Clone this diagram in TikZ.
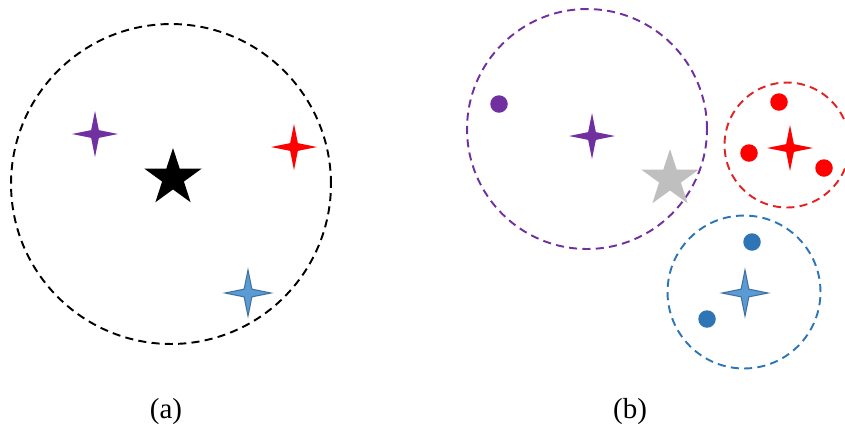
\documentclass[tikz,border=0pt]{standalone}
\usepackage{fontspec}
\setmainfont{Liberation Serif}
\usetikzlibrary{shapes.geometric}
\definecolor{cpurple}{HTML}{7030A0}
\definecolor{cred}{HTML}{FF0000}
\definecolor{cdred}{HTML}{E02424}
\definecolor{cblue}{HTML}{5B9BD5}
\definecolor{cblueline}{HTML}{41719C}
\definecolor{cdblue}{HTML}{2E75B6}
\definecolor{cgray}{HTML}{BFBFBF}

\begin{document}
\begin{tikzpicture}
    [x=0.02cm, y=-0.02cm,
    ring/.style={draw, circle, dashed, line width=1.1pt, dash pattern=on 4.6pt off 3pt, inner sep=0pt},
    sparkle/.style={star, star points=4, star point ratio=4.2, minimum size=0.92cm, inner sep=0pt, draw=none},
    bigstar/.style={star, star points=5, star point ratio=2.618, minimum size=1.2cm, inner sep=0pt, draw=none},
    dot/.style={circle, inner sep=0pt, minimum size=0.35cm},
    caption/.style={font=\fontsize{16.5}{19}\selectfont}]
        \clip (0,0) rectangle (845,434);
        %% Panel (a)
        \node[ring, minimum size=6.4cm] (A) at (171,184) {};
        \node[sparkle, fill=cpurple] (Ap) at (95,134) {};
        \node[sparkle, fill=cred] (Ar) at (294,147) {};
        \node[sparkle, fill=cblue, draw=cblueline, line width=0.6pt] (Ab) at (248,293) {};
        \node[bigstar, fill=black] (Ac) at (173,178) {};
        \node[caption] (la) at (166,412) {(a)};

        %% Panel (b)
        \node[ring, draw=cpurple, minimum size=4.8cm] (P) at (587,129) {};
        \node[ring, draw=cdred, minimum size=2.5cm] (R) at (787,145) {};
        \node[ring, draw=cdblue, minimum size=3.06cm] (B) at (744,292) {};
        \node[bigstar, fill=cgray] (Bc) at (670,179) {};
        \node[sparkle, fill=cpurple] (Bp) at (592,136) {};
        \node[sparkle, fill=cred] (Br) at (790,148) {};
        \node[sparkle, fill=cblue, draw=cblueline, line width=0.6pt] (Bb) at (745,293) {};
        \node[dot, fill=cpurple] (p1) at (499,104) {};
        \node[dot, fill=cred] (r1) at (779,102) {};
        \node[dot, fill=cred] (r2) at (749,153) {};
        \node[dot, fill=cred] (r3) at (824,168) {};
        \node[dot, fill=cdblue] (b1) at (752,242) {};
        \node[dot, fill=cdblue] (b2) at (707,319) {};
        \node[caption] (lb) at (630,412) {(b)};
    \end{tikzpicture}
\end{document}
